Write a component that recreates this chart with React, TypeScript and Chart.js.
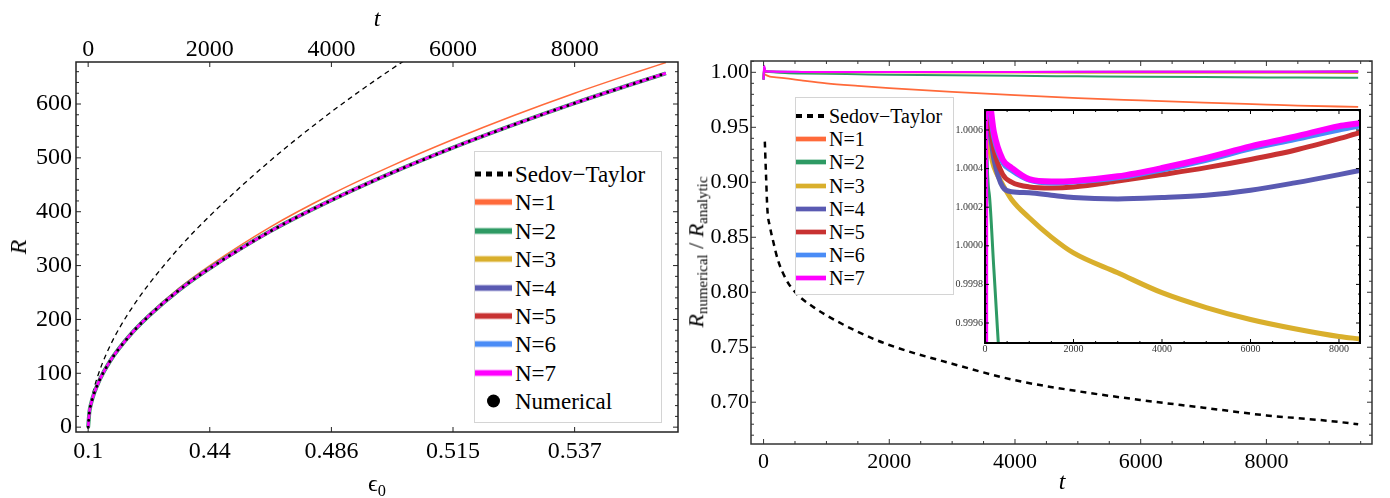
import React, { useEffect, useRef } from "react";
import { Chart, registerables } from "chart.js";

Chart.register(...registerables);

const SERIF = "'Liberation Serif', 'Times New Roman', Times, 'Nimbus Roman', 'DejaVu Serif', serif";

// ---------------- Left panel data: R versus t ----------------
const leftTimeTicks = [0, 2000, 4000, 6000, 8000];
const leftEpsLabels = ["0.1", "0.44", "0.486", "0.515", "0.537"];
const leftRTicks = [0, 100, 200, 300, 400, 500, 600];

const tR = [0, 20, 50, 100, 200, 350, 500, 750, 1000, 1500, 2000, 3000, 4000, 5000, 6000, 7000, 8000, 9000, 9500];
const R_N2to7 = [0, 27.8, 44.6, 63.5, 90.6, 120.8, 145, 178.6, 207, 255, 295, 364, 421.5, 472.6, 519, 561.7, 601.6, 639, 657];
const R_numerical = [0, 27.8, 44.6, 63.5, 90.6, 120.8, 145, 178.6, 207, 255, 295, 364, 421.5, 472.6, 519, 561.7, 601.6, 639, 657];
const R_N1 = [0, 27.8, 44.6, 63.6, 90.8, 121.2, 145.4, 179.3, 209, 258.5, 300, 372, 432.5, 485.6, 534, 578.7, 620.1, 658.5, 677];
const tSedovLeft = [20, 40, 60, 100, 150, 230, 365, 520, 780, 1000, 1500, 2000, 3000, 4000, 5000, 5500];
const R_sedov = [29.7, 43.9, 55.8, 73.8, 92.4, 117.5, 152.2, 185.2, 231.5, 265.7, 333.6, 392.3, 495.2, 585.4, 665.6, 702];

// ---------------- Right panel data: R_numerical / R_analytic ----------------
const rightTimeTicks = [0, 2000, 4000, 6000, 8000];
const rightRatioTicks = [0.7, 0.75, 0.8, 0.85, 0.9, 0.95, 1.0];

const tRatio = [0, 8, 30, 100, 200, 400, 600, 1000, 1500, 2000, 3000, 4000, 5000, 6000, 7000, 8000, 8500, 9460];
const ratioN1 = [1.0, 0.999, 0.9978, 0.9962, 0.9955, 0.9942, 0.9927, 0.99, 0.9877, 0.9857, 0.9823, 0.9793, 0.9766, 0.9745, 0.9725, 0.9707, 0.9698, 0.9685];
const ratioN2 = [0.9935, 1.002, 1.00065, 1.00026, 0.99988, 0.99918, 0.99895, 0.9986, 0.99825, 0.9979, 0.9973, 0.9968, 0.9964, 0.996, 0.99565, 0.99535, 0.99525, 0.9951];
const ratioN3 = [0.9935, 1.003, 1.0008, 1.0005, 1.00041, 1.000317, 1.00024, 1.000145, 1.000045, 0.999963, 0.99986, 0.999757, 0.99968, 0.999618, 0.99957, 0.99953, 0.999517, 0.99949];
const ratioN4 = [0.9935, 1.004, 1.001, 1.0006, 1.00045, 1.000305, 1.00028, 1.000275, 1.000262, 1.00025, 1.000243, 1.00025, 1.000262, 1.000288, 1.000326, 1.000369, 1.000392, 1.00044];
const ratioN5 = [0.9935, 1.004, 1.001, 1.00065, 1.0005, 1.00037, 1.00033, 1.000305, 1.0003, 1.000305, 1.000335, 1.000369, 1.000405, 1.000447, 1.000495, 1.000555, 1.000588, 1.00064];
const ratioN6 = [0.9935, 1.005, 1.0011, 1.0007, 1.00056, 1.00043, 1.00039, 1.00034, 1.000325, 1.00033, 1.000352, 1.000393, 1.000443, 1.000502, 1.00055, 1.0006, 1.000622, 1.00067];
const ratioN7 = [0.9935, 1.006, 1.0012, 1.00075, 1.00059, 1.000447, 1.000404, 1.000345, 1.000333, 1.000336, 1.00036, 1.000403, 1.000455, 1.000515, 1.000565, 1.00062, 1.000637, 1.00069];
const tSedovRatio = [20, 40, 60, 100, 150, 230, 365, 520, 780, 1000, 1500, 2000, 3000, 4000, 5000, 6000, 7000, 8000, 9000, 9460];
const ratioSedov = [0.937, 0.905, 0.876, 0.86, 0.847, 0.829, 0.811, 0.799, 0.787, 0.779, 0.764, 0.752, 0.735, 0.72, 0.71, 0.702, 0.695, 0.688, 0.683, 0.68];

// ---------------- Inset ticks ----------------
const insetTimeTicks = [0, 2000, 4000, 6000, 8000];
const insetRatioTicks = [0.9996, 0.9998, 1.0, 1.0002, 1.0004, 1.0006];

const COLORS: Record<string, string> = {
  N1: "#FF6A3A",
  N2: "#2E9A64",
  N3: "#D9AF2C",
  N4: "#5A5AB2",
  N5: "#C83232",
  N6: "#4A8CF6",
  N7: "#FF00FF",
};

const pts = (xs: number[], ys: number[]) => xs.map((x, i) => ({ x, y: ys[i] }));

function line(label: string, xs: number[], ys: number[], color: string, width: number, extra: any = {}) {
  return {
    label,
    data: pts(xs, ys),
    borderColor: color,
    backgroundColor: color,
    borderWidth: width,
    pointRadius: 0,
    fill: false,
    cubicInterpolationMode: "monotone",
    ...extra,
  };
}

function minorValues(min: number, max: number, step: number, majors: number[]) {
  const out: number[] = [];
  for (let k = Math.ceil(min / step - 1e-9); k * step <= max + step * 1e-9; k++) {
    const v = k * step;
    if (!majors.some((m) => Math.abs(m - v) < step * 1e-3)) out.push(v);
  }
  return out;
}

function frameTicks(o: {
  xId: string;
  yId: string;
  xMajor: number[];
  xMinorStep?: number;
  yMajor: number[];
  yMinorStep?: number;
  majorLen: number;
  minorLen: number;
  color: string;
  frameWidth: number;
  bg?: boolean;
}) {
  return {
    id: "frameTicks",
    beforeDraw(chart: any) {
      if (!o.bg) return;
      const { ctx, chartArea: a } = chart;
      ctx.save();
      ctx.fillStyle = "#ffffff";
      ctx.fillRect(a.left, a.top, a.right - a.left, a.bottom - a.top);
      ctx.restore();
    },
    afterDraw(chart: any) {
      const { ctx, chartArea: a } = chart;
      const xs = chart.scales[o.xId];
      const ys = chart.scales[o.yId];
      ctx.save();
      ctx.strokeStyle = o.color;
      ctx.lineWidth = 1;
      ctx.beginPath();
      const dx = (v: number, len: number) => {
        const p = xs.getPixelForValue(v);
        if (p < a.left - 0.5 || p > a.right + 0.5) return;
        ctx.moveTo(p, a.bottom);
        ctx.lineTo(p, a.bottom - len);
        ctx.moveTo(p, a.top);
        ctx.lineTo(p, a.top + len);
      };
      const dy = (v: number, len: number) => {
        const p = ys.getPixelForValue(v);
        if (p < a.top - 0.5 || p > a.bottom + 0.5) return;
        ctx.moveTo(a.left, p);
        ctx.lineTo(a.left + len, p);
        ctx.moveTo(a.right, p);
        ctx.lineTo(a.right - len, p);
      };
      o.xMajor.forEach((v) => dx(v, o.majorLen));
      if (o.xMinorStep) minorValues(xs.min, xs.max, o.xMinorStep, o.xMajor).forEach((v) => dx(v, o.minorLen));
      o.yMajor.forEach((v) => dy(v, o.majorLen));
      if (o.yMinorStep) minorValues(ys.min, ys.max, o.yMinorStep, o.yMajor).forEach((v) => dy(v, o.minorLen));
      ctx.stroke();
      ctx.lineWidth = o.frameWidth;
      ctx.strokeRect(a.left, a.top, a.right - a.left, a.bottom - a.top);
      ctx.restore();
    },
  };
}

function xAxis(pos: string, min: number, max: number, ticks: number[], fmt: (v: number, i: number) => string, size: number, pad: number, height: number, color = "#000") {
  return {
    type: "linear",
    position: pos,
    min,
    max,
    grid: { display: false, drawTicks: false },
    border: { display: false },
    afterBuildTicks: (axis: any) => {
      axis.ticks = ticks.map((v) => ({ value: v }));
    },
    afterFit: (axis: any) => {
      axis.height = height;
      axis.paddingLeft = 0;
      axis.paddingRight = 0;
    },
    ticks: {
      autoSkip: false,
      maxRotation: 0,
      minRotation: 0,
      padding: pad,
      color,
      font: { family: SERIF, size, lineHeight: 1 },
      callback: (v: any, i: number) => fmt(Number(v), i),
    },
  };
}

function yAxis(min: number, max: number, ticks: number[], fmt: (v: number) => string, size: number, pad: number, width: number, color = "#000") {
  return {
    type: "linear",
    position: "left",
    min,
    max,
    grid: { display: false, drawTicks: false },
    border: { display: false },
    afterBuildTicks: (axis: any) => {
      axis.ticks = ticks.map((v) => ({ value: v }));
    },
    afterFit: (axis: any) => {
      axis.width = width;
      axis.paddingTop = 0;
      axis.paddingBottom = 0;
    },
    ticks: {
      autoSkip: false,
      padding: pad,
      color,
      font: { family: SERIF, size, lineHeight: 1 },
      callback: (v: any) => fmt(Number(v)),
    },
  };
}

const baseOptions = {
  animation: false,
  responsive: false,
  maintainAspectRatio: false,
  events: [],
  plugins: { legend: { display: false }, tooltip: { enabled: false } },
};

function leftConfig(): any {
  return {
    type: "line",
    data: {
      datasets: [
        line("Numerical", tR, R_numerical, "#000000", 3, { borderDash: [0, 7], borderCapStyle: "round" }),
        line("N=7", tR, R_N2to7, COLORS.N7, 2.5),
        line("N=6", tR, R_N2to7, COLORS.N6, 2.5),
        line("N=5", tR, R_N2to7, COLORS.N5, 2.5),
        line("N=4", tR, R_N2to7, COLORS.N4, 2.5),
        line("N=3", tR, R_N2to7, COLORS.N3, 2.5),
        line("N=2", tR, R_N2to7, COLORS.N2, 4),
        line("N=1", tR, R_N1, COLORS.N1, 1.5),
        line("Sedov−Taylor", tSedovLeft, R_sedov, "#000000", 1.3, { borderDash: [5, 4] }),
      ],
    },
    options: {
      ...baseOptions,
      layout: { padding: { left: 0, top: 0, right: 22, bottom: 0 } },
      scales: {
        x: xAxis("bottom", -200, 9700, leftTimeTicks, (_v, i) => leftEpsLabels[i], 24, 8, 66),
        x2: xAxis("top", -200, 9700, leftTimeTicks, (v) => String(v), 24, 0, 62),
        y: yAxis(-9, 678, leftRTicks, (v) => String(v), 24, 4, 76),
      },
    },
    plugins: [
      frameTicks({
        xId: "x",
        yId: "y",
        xMajor: leftTimeTicks,
        yMajor: leftRTicks,
        yMinorStep: 20,
        majorLen: 5,
        minorLen: 3,
        color: "#222",
        frameWidth: 1.5,
      }),
    ],
  };
}

function rightConfig(): any {
  return {
    type: "line",
    data: {
      datasets: [
        line("N=7", tRatio, ratioN7, COLORS.N7, 2),
        line("N=6", tRatio, ratioN6, COLORS.N6, 2),
        line("N=5", tRatio, ratioN5, COLORS.N5, 2),
        line("N=4", tRatio, ratioN4, COLORS.N4, 2),
        line("N=3", tRatio, ratioN3, COLORS.N3, 2),
        line("N=2", tRatio, ratioN2, COLORS.N2, 2),
        line("N=1", tRatio, ratioN1, COLORS.N1, 1.8),
        line("Sedov−Taylor", tSedovRatio, ratioSedov, "#000000", 2.5, { borderDash: [6, 5] }),
      ],
    },
    options: {
      ...baseOptions,
      layout: { padding: { left: 0, top: 61, right: 18, bottom: 0 } },
      scales: {
        x: xAxis("bottom", -200, 9680, rightTimeTicks, (v) => String(v), 22, 7, 54),
        y: yAxis(0.662, 1.0103, rightRatioTicks, (v) => v.toFixed(2), 22, 2, 51),
      },
    },
    plugins: [
      frameTicks({
        xId: "x",
        yId: "y",
        xMajor: rightTimeTicks,
        xMinorStep: 500,
        yMajor: rightRatioTicks,
        yMinorStep: 0.01,
        majorLen: 5,
        minorLen: 3,
        color: "#333",
        frameWidth: 1.5,
      }),
    ],
  };
}

function insetConfig(): any {
  return {
    type: "line",
    data: {
      datasets: [
        line("N=7", tRatio, ratioN7, COLORS.N7, 6),
        line("N=6", tRatio, ratioN6, COLORS.N6, 5),
        line("N=5", tRatio, ratioN5, COLORS.N5, 5),
        line("N=4", tRatio, ratioN4, COLORS.N4, 5),
        line("N=3", tRatio, ratioN3, COLORS.N3, 5),
        line("N=2", tRatio, ratioN2, COLORS.N2, 3),
      ],
    },
    options: {
      ...baseOptions,
      layout: { padding: { left: 0, top: 10, right: 10, bottom: 0 } },
      scales: {
        x: xAxis("bottom", 0, 8475, insetTimeTicks, (v) => String(v), 10, 1, 19, "#333"),
        y: yAxis(0.9994964, 1.0007036, insetRatioTicks, (v) => v.toFixed(4), 10, 2, 45, "#333"),
      },
    },
    plugins: [
      frameTicks({
        xId: "x",
        yId: "y",
        xMajor: insetTimeTicks,
        xMinorStep: 500,
        yMajor: insetRatioTicks,
        yMinorStep: 0.00005,
        majorLen: 4,
        minorLen: 2,
        color: "#000",
        frameWidth: 2,
        bg: true,
      }),
    ],
  };
}

type LegendItem = { label: string; color: string; kind: "solid" | "dots" | "circle" };

const leftLegendItems: LegendItem[] = [
  { label: "Sedov−Taylor", color: "#000", kind: "dots" },
  { label: "N=1", color: COLORS.N1, kind: "solid" },
  { label: "N=2", color: COLORS.N2, kind: "solid" },
  { label: "N=3", color: COLORS.N3, kind: "solid" },
  { label: "N=4", color: COLORS.N4, kind: "solid" },
  { label: "N=5", color: COLORS.N5, kind: "solid" },
  { label: "N=6", color: COLORS.N6, kind: "solid" },
  { label: "N=7", color: COLORS.N7, kind: "solid" },
  { label: "Numerical", color: "#000", kind: "circle" },
];
const rightLegendItems: LegendItem[] = leftLegendItems.slice(0, 8);

function Legend(p: {
  left: number;
  top: number;
  width: number;
  height: number;
  rowStart: number;
  rowStep: number;
  swLeft: number;
  swWidth: number;
  textLeft: number;
  fontSize: number;
  lineW: number;
  items: LegendItem[];
}) {
  return (
    <div
      style={{
        position: "absolute",
        left: p.left,
        top: p.top,
        width: p.width,
        height: p.height,
        border: "1px solid #d4d4d4",
        background: "#fff",
        boxSizing: "border-box",
      }}
    >
      {p.items.map((it, i) => {
        const cy = p.rowStart + i * p.rowStep;
        return (
          <React.Fragment key={it.label}>
            <svg
              width={p.swWidth}
              height={14}
              style={{ position: "absolute", left: p.swLeft, top: cy - 7 }}
            >
              {it.kind === "dots" && (
                <line x1={0} x2={p.swWidth} y1={7} y2={7} stroke="#000" strokeWidth={p.lineW} strokeDasharray="6 5" />
              )}
              {it.kind === "solid" && (
                <>
                  <line x1={0} x2={p.swWidth} y1={7} y2={7} stroke={it.color} strokeOpacity={0.35} strokeWidth={p.lineW + 2} />
                  <line x1={0} x2={p.swWidth} y1={7} y2={7} stroke={it.color} strokeWidth={p.lineW} />
                </>
              )}
              {it.kind === "circle" && <circle cx={p.swWidth / 2} cy={7} r={6.5} fill="#000" />}
            </svg>
            <span
              style={{
                position: "absolute",
                left: p.textLeft,
                top: cy,
                transform: "translateY(-50%)",
                fontFamily: SERIF,
                fontSize: p.fontSize,
                lineHeight: 1,
                whiteSpace: "nowrap",
                color: "#000",
              }}
            >
              {it.label}
            </span>
          </React.Fragment>
        );
      })}
    </div>
  );
}

function Title(p: { x: number; y: number; size: number; rotate?: boolean; children: React.ReactNode }) {
  return (
    <div
      style={{
        position: "absolute",
        left: p.x,
        top: p.y,
        transform: `translate(-50%, -50%)${p.rotate ? " rotate(-90deg)" : ""}`,
        fontFamily: SERIF,
        fontSize: p.size,
        lineHeight: 1,
        whiteSpace: "nowrap",
        color: "#000",
      }}
    >
      {p.children}
    </div>
  );
}

export default function App() {
  const leftRef = useRef<HTMLCanvasElement>(null);
  const rightRef = useRef<HTMLCanvasElement>(null);
  const insetRef = useRef<HTMLCanvasElement>(null);

  useEffect(() => {
    const charts: Chart[] = [];
    if (leftRef.current) charts.push(new Chart(leftRef.current, leftConfig()));
    if (rightRef.current) charts.push(new Chart(rightRef.current, rightConfig()));
    if (insetRef.current) charts.push(new Chart(insetRef.current, insetConfig()));
    return () => charts.forEach((c) => c.destroy());
  }, []);

  const subStyle: React.CSSProperties = { fontSize: "0.68em", verticalAlign: "-0.3em", fontStyle: "normal" };

  return (
    <div style={{ position: "absolute", left: 0, top: 0, width: 1390, height: 498, background: "#fff", overflow: "hidden" }}>
      <canvas ref={leftRef} width={700} height={498} style={{ position: "absolute", left: 0, top: 0, width: 700, height: 498 }} />
      <canvas ref={rightRef} width={690} height={498} style={{ position: "absolute", left: 700, top: 0, width: 690, height: 498 }} />
      <canvas ref={insetRef} width={430} height={262} style={{ position: "absolute", left: 940, top: 100, width: 430, height: 262 }} />

      <Legend
        left={474}
        top={151}
        width={188}
        height={272}
        rowStart={22}
        rowStep={28.4}
        swLeft={0}
        swWidth={37}
        textLeft={40}
        fontSize={23}
        lineW={5}
        items={leftLegendItems}
      />
      <Legend
        left={795}
        top={97}
        width={159}
        height={198}
        rowStart={18}
        rowStep={23.2}
        swLeft={0}
        swWidth={30}
        textLeft={33}
        fontSize={20}
        lineW={4}
        items={rightLegendItems}
      />

      <Title x={377} y={18} size={24}>
        <i>t</i>
      </Title>
      <Title x={18} y={247} size={24} rotate>
        <i>R</i>
      </Title>
      <Title x={377} y={485} size={24}>
        ϵ<span style={subStyle}>0</span>
      </Title>
      <Title x={1062} y={481} size={24}>
        <i>t</i>
      </Title>
      <Title x={698} y={252} size={22} rotate>
        <i>R</i>
        <span style={subStyle}>numerical</span> / <i>R</i>
        <span style={subStyle}>analytic</span>
      </Title>
    </div>
  );
}
